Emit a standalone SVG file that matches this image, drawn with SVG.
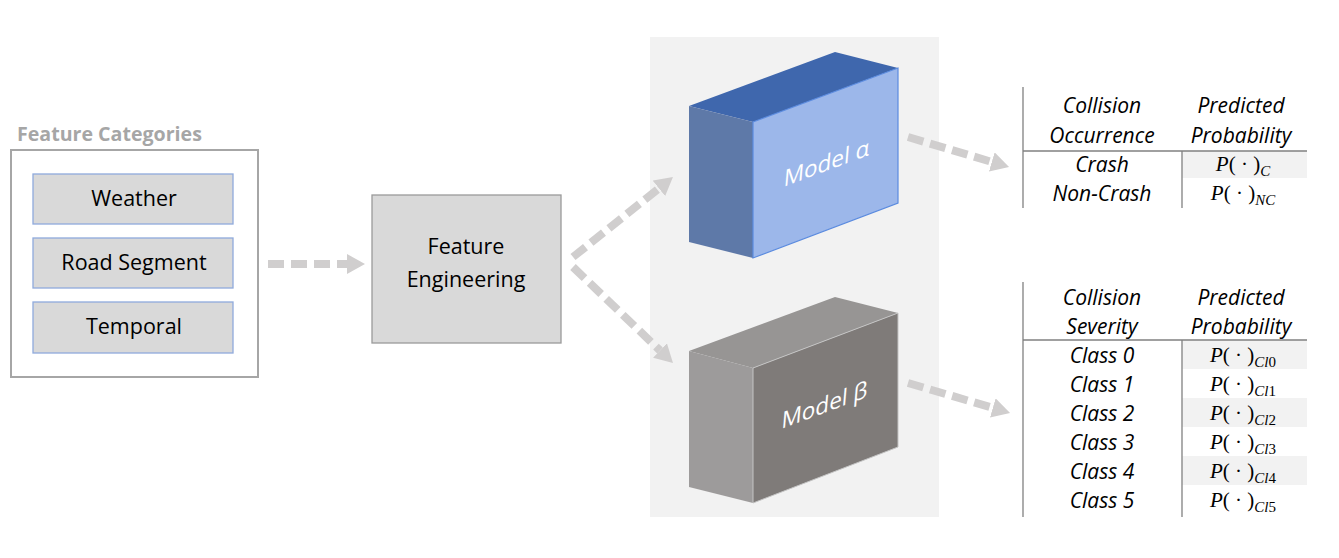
<svg xmlns="http://www.w3.org/2000/svg" width="1339" height="558" viewBox="0 0 1339 558">
<defs>
<style>
.lbl{font-family:'Open Sans','Liberation Sans',sans-serif;font-size:21.5px;fill:#000;text-anchor:middle}
.ttl{font-family:'Open Sans','Liberation Sans',sans-serif;font-size:19.6px;font-weight:bold;fill:#A6A6A6}
.mdl{font-family:'Open Sans','Liberation Sans',sans-serif;font-size:22.5px;fill:#fff;text-anchor:middle}
.tb{font-family:'Open Sans','Liberation Sans',sans-serif;font-size:21px;font-style:italic;fill:#000;text-anchor:middle}
.pm{font-family:'Liberation Serif','DejaVu Serif',serif;font-size:21px;fill:#000;text-anchor:middle}
.it{font-style:italic}
.sub{font-size:15px}
.cat{fill:#D9D9D9;stroke:#8FAADC;stroke-width:1.3}
.conn{fill:none;stroke:#D0CECE;stroke-width:8;stroke-dasharray:16 7;marker-end:url(#ah)}
.rule{stroke:#808080;stroke-width:1.3;fill:none}
.shade{fill:#F2F2F2}
</style>
<marker id="ah" markerUnits="userSpaceOnUse" markerWidth="18" markerHeight="20" viewBox="0 -10 18 20" refX="0" refY="0" orient="auto">
<path d="M0,-10 L18,0 L0,10 Z" fill="#D0CECE"/>
</marker>
</defs>
<rect width="1339" height="558" fill="#fff"/>
<rect id="panel" x="650" y="37" width="289" height="480" fill="#F2F2F2"/>

<g id="feature-categories">
<text class="ttl" x="17" y="141">Feature Categories</text>
<rect x="11" y="150" width="247" height="227" fill="#fff" stroke="#A6A6A6" stroke-width="2"/>
</g>
<g id="weather">
<rect class="cat" x="33" y="174" width="200" height="50"/>
<text class="lbl" x="134" y="206">Weather</text>
</g>
<g id="road-segment">
<rect class="cat" x="33" y="238" width="200" height="50"/>
<text class="lbl" x="134" y="270">Road Segment</text>
</g>
<g id="temporal">
<rect class="cat" x="33" y="302" width="200" height="51"/>
<text class="lbl" x="134" y="334">Temporal</text>
</g>

<g id="feature-engineering">
<rect x="372" y="195" width="189" height="148" fill="#D9D9D9" stroke="#9A9A9A" stroke-width="1.3"/>
<text class="lbl" x="466" y="254">Feature</text>
<text class="lbl" x="466" y="287">Engineering</text>
</g>

<g id="model-alpha">
<polygon points="689,106 835,52 898,68 753,122" fill="#3F67AD"/>
<polygon points="689,106 753,122 753,258 689,242" fill="#5E79A8"/>
<polygon points="753,122 898,68 898,203 753,258" fill="#9CB7EA" stroke="#5B8BDF" stroke-width="1.2"/>
<text class="mdl" transform="translate(826,171) skewY(-20.4) skewX(-5)">Model α</text>
</g>

<g id="model-beta">
<polygon points="689,351 835,297 898,313 753,368" fill="#979594"/>
<polygon points="689,351 753,368 753,503 689,487" fill="#9D9B9B"/>
<polygon points="753,368 898,313 898,447 753,503" fill="#7F7B79" stroke="#C4C4C4" stroke-width="1"/>
<text class="mdl" transform="translate(824,413) skewY(-20.4) skewX(-5)">Model β</text>
</g>

<g id="connectors">
<path class="conn" d="M268,264 L347,264"/>
<path class="conn" d="M573,257 L658.9,188.3"/>
<path class="conn" d="M573,267 L660,350.5"/>
<path class="conn" d="M908,137 L991.8,161.9"/>
<path class="conn" d="M908,383 L992.8,407.9"/>
</g>

<g id="table-occurrence">
<rect class="shade" x="1182" y="151" width="125" height="27"/>
<line class="rule" x1="1023" y1="87" x2="1023" y2="208"/>
<line class="rule" x1="1023" y1="151" x2="1307" y2="151"/>
<line class="rule" x1="1182" y1="151" x2="1182" y2="208"/>
<text class="tb" x="1102" y="113">Collision</text>
<text class="tb" x="1102" y="143">Occurrence</text>
<text class="tb" x="1241" y="113">Predicted</text>
<text class="tb" x="1241" y="143">Probability</text>
<text class="tb" x="1102" y="172">Crash</text>
<text class="tb" x="1102" y="201">Non-Crash</text>
<text class="pm" x="1243" y="171"><tspan class="it">P</tspan>( · )<tspan class="sub it" dy="5">C</tspan></text>
<text class="pm" x="1243" y="200"><tspan class="it">P</tspan>( · )<tspan class="sub it" dy="5">NC</tspan></text>
</g>

<g id="table-severity">
<rect class="shade" x="1182" y="340" width="125" height="29"/>
<rect class="shade" x="1182" y="398" width="125" height="29"/>
<rect class="shade" x="1182" y="456" width="125" height="29"/>
<line class="rule" x1="1023" y1="282" x2="1023" y2="517"/>
<line class="rule" x1="1023" y1="340" x2="1307" y2="340"/>
<line class="rule" x1="1182" y1="340" x2="1182" y2="517"/>
<text class="tb" x="1102" y="305">Collision</text>
<text class="tb" x="1102" y="334">Severity</text>
<text class="tb" x="1241" y="305">Predicted</text>
<text class="tb" x="1241" y="334">Probability</text>
<text class="tb" x="1102" y="363">Class 0</text>
<text class="tb" x="1102" y="392">Class 1</text>
<text class="tb" x="1102" y="421">Class 2</text>
<text class="tb" x="1102" y="450">Class 3</text>
<text class="tb" x="1102" y="479">Class 4</text>
<text class="tb" x="1102" y="508">Class 5</text>
<text class="pm" x="1243" y="362"><tspan class="it">P</tspan>( · )<tspan class="sub" dy="5"><tspan class="it">Cl</tspan>0</tspan></text>
<text class="pm" x="1243" y="391"><tspan class="it">P</tspan>( · )<tspan class="sub" dy="5"><tspan class="it">Cl</tspan>1</tspan></text>
<text class="pm" x="1243" y="420"><tspan class="it">P</tspan>( · )<tspan class="sub" dy="5"><tspan class="it">Cl</tspan>2</tspan></text>
<text class="pm" x="1243" y="449"><tspan class="it">P</tspan>( · )<tspan class="sub" dy="5"><tspan class="it">Cl</tspan>3</tspan></text>
<text class="pm" x="1243" y="478"><tspan class="it">P</tspan>( · )<tspan class="sub" dy="5"><tspan class="it">Cl</tspan>4</tspan></text>
<text class="pm" x="1243" y="507"><tspan class="it">P</tspan>( · )<tspan class="sub" dy="5"><tspan class="it">Cl</tspan>5</tspan></text>
</g>
</svg>
